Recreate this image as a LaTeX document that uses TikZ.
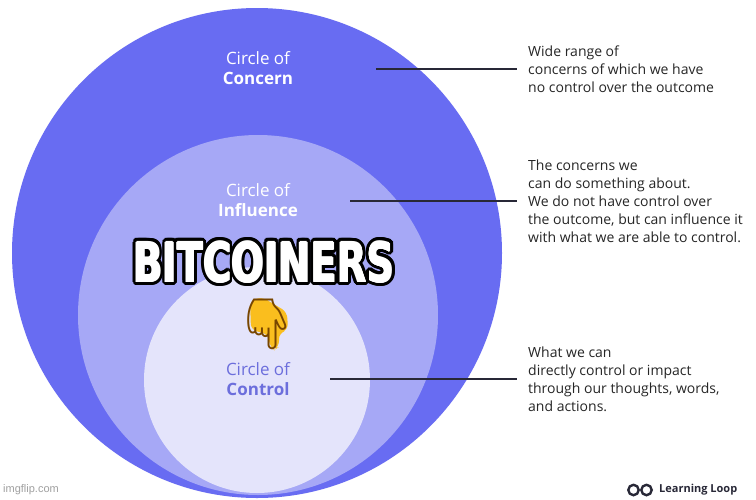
\documentclass[tikz,border=0pt]{standalone}
\usepackage{fontspec}
\setmainfont{Open Sans}
\newfontfamily\memefont{DejaVu Sans}
\newfontfamily\emojifont{Noto Emoji}
\newfontfamily\markfont{Liberation Sans}
\definecolor{concern}{RGB}{104,108,242}
\definecolor{influence}{RGB}{166,168,246}
\definecolor{control}{RGB}{228,228,251}
\definecolor{controltext}{RGB}{108,110,220}
\definecolor{linegray}{RGB}{40,40,55}
\definecolor{notegray}{RGB}{38,38,38}
\definecolor{markgray}{RGB}{160,160,160}
\definecolor{handyellow}{RGB}{250,190,30}
\definecolor{handedge}{RGB}{120,70,0}
\begin{document}
\begin{tikzpicture}[x = 1pt, y = -1pt,
        circlelabel/.style = {align = center, text = white, font = \fontsize{17}{20}\selectfont},
        note/.style = {align = left, anchor = west, inner xsep = 11pt, inner ysep = 0pt, text = notegray, font = \fontsize{14}{18}\selectfont},
        pointer/.style = {draw = linegray, line width = 1.4pt},
        memetext/.style = {xscale = 0.7, font = \memefont\bfseries\fontsize{55}{55}\selectfont},
        handglyph/.style = {font = \emojifont\fontsize{50}{50}\selectfont}]
        \useasboundingbox [fill = white] (0,0) rectangle (756,499);
        \fill [concern] (257,253) circle [radius = 245];
        \fill [influence] (258,315) circle [radius = 180];
        \fill [control] (257,380) circle [radius = 113];
        \node [circlelabel] (lconcern) at (258,68) {Circle of\\\textbf{Concern}};
        \node [circlelabel] (linfluence) at (258,200) {Circle of\\\textbf{Influence}};
        \node [circlelabel, text = controltext] (lcontrol) at (258,379) {Circle of\\\textbf{Control}};
        \node [note] (nconcern) at (517,69) {Wide range of\\concerns of which we have\\no control over the outcome};
        \node [note] (ninfluence) at (517,201) {The concerns we\\can do something about.\\We do not have control over\\the outcome, but can influence it\\with what we are able to control.};
        \node [note] (ncontrol) at (517,379) {What we can\\directly control or impact\\through our thoughts, words,\\and actions.};
        \coordinate (pconcern) at (376,69);
        \coordinate (pinfluence) at (350,201);
        \coordinate (pcontrol) at (330,379);
        \draw [pointer] (pconcern) -- (nconcern.west);
        \draw [pointer] (pinfluence) -- (ninfluence.west);
        \draw [pointer] (pcontrol) -- (ncontrol.west);
        % meme text and hand
        \foreach \a in {0,20,...,340}
            \node [memetext, text = black] (glow\a) at ({264+3.5*cos(\a)},{262+3.5*sin(\a)}) {BITCOINERS};
        \foreach \a in {0,90,180,270}
            \node [memetext, text = white] (thick\a) at ({264+0.8*cos(\a)},{262+0.8*sin(\a)}) {BITCOINERS};
        \node [memetext, text = white] (meme) at (264,262) {BITCOINERS};
        \fill [handyellow, rounded corners = 6pt] (250,301) -- (262,297) -- (287,312) -- (288,330) -- (279,333) -- (279,347) -- (274,350) -- (270,347) -- (268,334) -- (251,330) -- cycle;
        \node [handglyph, text = handedge] (hand) at (267,324) {👇};
        % logo and watermark
        \draw [linegray, line width = 2.4pt] (633.5,490) circle [radius = 5.2];
        \draw [linegray, line width = 2.4pt] (646.5,490) circle [radius = 5.2];
        \node [anchor = west, inner sep = 0pt, text = linegray, font = \bfseries\fontsize{11}{13}\selectfont] (brand) at (659,490) {Learning Loop};
        \node [anchor = west, inner sep = 0pt, text = markgray, font = \markfont\fontsize{11}{13}\selectfont] (watermark) at (3,490) {imgflip.com};
    \end{tikzpicture}
\end{document}
